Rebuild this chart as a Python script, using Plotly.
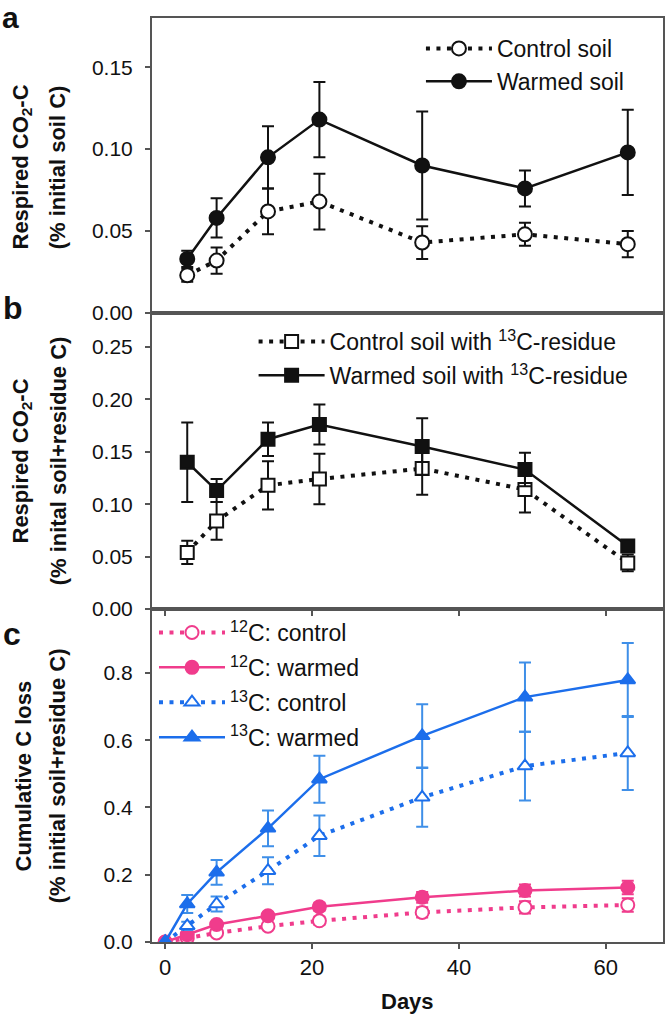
import plotly.graph_objects as go

# ---------------- data ----------------
days = [3, 7, 14, 21, 35, 49, 63]

a_control = [0.023, 0.032, 0.062, 0.068, 0.043, 0.048, 0.042]
a_control_err = [0.004, 0.008, 0.014, 0.017, 0.010, 0.007, 0.008]
a_warmed = [0.033, 0.058, 0.095, 0.118, 0.090, 0.076, 0.098]
a_warmed_err = [0.005, 0.012, 0.019, 0.023, 0.033, 0.011, 0.026]

b_control = [0.054, 0.084, 0.118, 0.124, 0.134, 0.114, 0.044]
b_control_err = [0.011, 0.018, 0.023, 0.024, 0.025, 0.022, 0.008]
b_warmed = [0.140, 0.113, 0.162, 0.176, 0.155, 0.133, 0.060]
b_warmed_err = [0.038, 0.011, 0.016, 0.019, 0.027, 0.016, 0.004]

c_days = [0, 3, 7, 14, 21, 35, 49, 63]
c12_control = [0, 0.012, 0.027, 0.047, 0.063, 0.088, 0.103, 0.110]
c12_control_err = [0, 0.004, 0.006, 0.008, 0.012, 0.015, 0.018, 0.020]
c12_warmed = [0, 0.022, 0.052, 0.078, 0.105, 0.133, 0.153, 0.162]
c12_warmed_err = [0, 0.005, 0.008, 0.010, 0.012, 0.016, 0.018, 0.020]
c13_control = [0, 0.048, 0.113, 0.212, 0.316, 0.430, 0.523, 0.562]
c13_control_err = [0, 0.012, 0.022, 0.040, 0.060, 0.087, 0.102, 0.110]
c13_warmed = [0, 0.113, 0.207, 0.338, 0.484, 0.613, 0.728, 0.779]
c13_warmed_err = [0, 0.027, 0.037, 0.053, 0.070, 0.094, 0.103, 0.110]

a_ticks = [0, 0.05, 0.10, 0.15]
b_ticks = [0, 0.05, 0.10, 0.15, 0.20, 0.25]
c_ticks = [0, 0.2, 0.4, 0.6, 0.8]
x_ticks = [0, 20, 40, 60]

# ---------------- style ----------------
W, H = 668, 1016
ML, MR, MT, MB = 152, 3, 18, 74
PW, PH = W - ML - MR, H - MT - MB
BOT = H - MB


def px_x(p):
    return (p - ML) / PW


def px_y(p):
    return (BOT - p) / PH


FONT = "Liberation Sans, Arial, sans-serif"
BLACK = "#111111"
PINK = "#F03C8C"
BLUE = "#1C6EEB"
BLUE_ERR = "#3F8FE8"
FRAME = "#555555"
DOT = "4px,6.5px"

fig = go.Figure()


def add(x, y, err, name, xa, ya, legend, color, errcolor, dash, symbol, fill, size, lw, group):
    fig.add_trace(go.Scatter(
        x=x, y=y, name=name, xaxis=xa, yaxis=ya, legend=legend, legendgroup=group,
        mode="lines+markers",
        line=dict(color=color, width=lw, dash=dash),
        marker=dict(symbol=symbol, size=size, color=fill, line=dict(color=color, width=2)),
        error_y=dict(type="data", array=err, visible=True, color=errcolor, thickness=2, width=6),
    ))


# panel a
add(days, a_control, a_control_err, "Control soil", "x", "y", "legend", BLACK, BLACK, DOT,
    "circle", "white", 14, 4, "a1")
add(days, a_warmed, a_warmed_err, "Warmed soil", "x", "y", "legend", BLACK, BLACK, "solid",
    "circle", BLACK, 14, 2.5, "a2")
# panel b
add(days, b_control, b_control_err, "Control soil with <sup>13</sup>C-residue", "x2", "y2", "legend2",
    BLACK, BLACK, DOT, "square", "white", 13, 4, "b1")
add(days, b_warmed, b_warmed_err, "Warmed soil with <sup>13</sup>C-residue", "x2", "y2", "legend2",
    BLACK, BLACK, "solid", "square", BLACK, 13, 2.5, "b2")
# panel c
add(c_days, c12_control, c12_control_err, "<sup>12</sup>C: control", "x3", "y3", "legend3",
    PINK, PINK, DOT, "circle", "white", 13, 4, "c1")
add(c_days, c12_warmed, c12_warmed_err, "<sup>12</sup>C: warmed", "x3", "y3", "legend3",
    PINK, PINK, "solid", "circle", PINK, 13, 2.5, "c2")
add(c_days, c13_control, c13_control_err, "<sup>13</sup>C: control", "x3", "y3", "legend3",
    BLUE, BLUE_ERR, DOT, "triangle-up", "white", 13, 4, "c3")
add(c_days, c13_warmed, c13_warmed_err, "<sup>13</sup>C: warmed", "x3", "y3", "legend3",
    BLUE, BLUE_ERR, "solid", "triangle-up", BLUE, 13, 2.5, "c4")

# domains (pixel boundaries 18 / 313 / 609 / 942)
dom_a = [px_y(313), 1]
dom_b = [px_y(609), px_y(313)]
dom_c = [0, px_y(609)]

XR = [-1.8, 67.8]
common_x = dict(range=XR, showline=True, mirror=True, linecolor=FRAME, linewidth=2,
                showgrid=False, zeroline=False, tickvals=x_ticks)
common_y = dict(showline=True, mirror=True, linecolor=FRAME, linewidth=2, showgrid=False,
                zeroline=False, ticks="outside", ticklen=5, tickwidth=1.5, tickcolor=FRAME,
                tickfont=dict(family=FONT, size=21, color=BLACK), ticklabelstandoff=8)

legend_common = dict(bgcolor="rgba(0,0,0,0)", font=dict(family=FONT, size=23, color=BLACK),
                     xanchor="left", yanchor="top", itemwidth=66,
                     traceorder="grouped", itemclick=False)

fig.update_layout(
    width=W, height=H,
    margin=dict(l=ML, r=MR, t=MT, b=MB),
    paper_bgcolor="white", plot_bgcolor="white",
    showlegend=True,
    xaxis=dict(domain=[0, 1], anchor="y", showticklabels=False, ticks="", matches="x3", **common_x),
    xaxis2=dict(domain=[0, 1], anchor="y2", showticklabels=False, ticks="outside", ticklen=5,
                tickcolor=FRAME, tickwidth=1.5, matches="x3", **common_x),
    xaxis3=dict(domain=[0, 1], anchor="y3", ticks="outside", ticklen=5, tickcolor=FRAME, tickwidth=1.5,
                tickfont=dict(family=FONT, size=22, color=BLACK), **common_x),
    yaxis=dict(domain=dom_a, anchor="x", range=[0, 0.18], tickvals=a_ticks, tickformat=".2f", **common_y),
    yaxis2=dict(domain=dom_b, anchor="x2", range=[0, 0.2824], tickvals=b_ticks, tickformat=".2f", **common_y),
    yaxis3=dict(domain=dom_c, anchor="x3", range=[0, 0.99], tickvals=c_ticks, tickformat=".1f", **common_y),
    legend=dict(x=px_x(422), y=px_y(27), tracegroupgap=0, **legend_common),
    legend2=dict(x=px_x(254), y=px_y(320), tracegroupgap=1, **legend_common),
    legend3=dict(x=px_x(154), y=px_y(611), tracegroupgap=2, **legend_common),
)

ann = []
TF = dict(family=FONT, size=22, color=BLACK)


def ytitle(text, xp, yp):
    ann.append(dict(text="<b>" + text + "</b>", x=px_x(xp), y=px_y(yp), xref="paper", yref="paper",
                    showarrow=False, textangle=-90, font=TF, xanchor="center", yanchor="middle"))


ytitle("Respired CO<sub>2</sub>-C", 21, 167)
ytitle("(% initial soil C)", 58, 167)
ytitle("Respired CO<sub>2</sub>-C", 21, 461)
ytitle("(% inital soil+residue C)", 58, 461)
ytitle("Cumulative C loss", 22, 776)
ytitle("(% initial soil+residue C)", 57, 776)

ann.append(dict(text="<b>a</b>", x=px_x(0), y=px_y(0), xref="paper", yref="paper",
                showarrow=False, font=dict(family=FONT, size=30, color=BLACK),
                xanchor="left", yanchor="top", borderpad=0))
for letter, yp in [("b", 308), ("c", 634)]:
    ann.append(dict(text="<b>" + letter + "</b>", x=px_x(0), y=px_y(yp), xref="paper", yref="paper",
                    showarrow=False, font=dict(family=FONT, size=32, color=BLACK),
                    xanchor="left", yanchor="middle"))

ann.append(dict(text="<b>Days</b>", x=px_x(408), y=px_y(1002), xref="paper", yref="paper",
                showarrow=False, font=TF, xanchor="center", yanchor="middle"))

fig.update_layout(annotations=ann)

fig.write_html("out.html", config={"displayModeBar": False},
               post_script="document.body.style.margin='0';document.body.style.padding='0';")
